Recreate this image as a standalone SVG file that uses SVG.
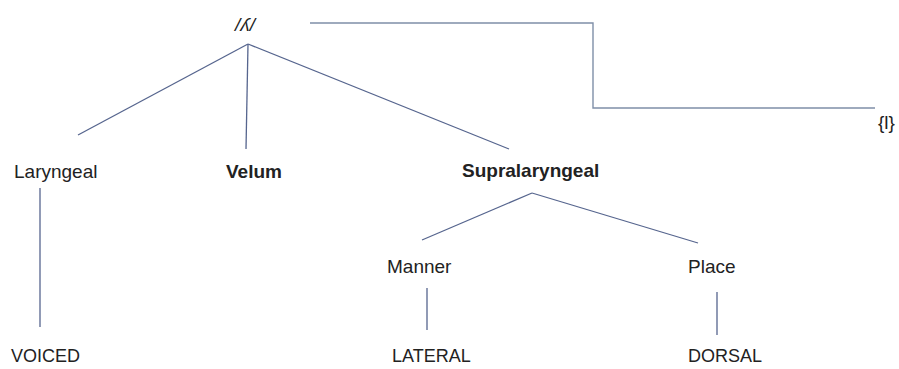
<svg xmlns="http://www.w3.org/2000/svg" width="899" height="369" viewBox="0 0 899 369">
<style>
.t{font-family:"Liberation Sans",Arial,sans-serif;font-size:19px;fill:#222}
.b{font-weight:bold}
.c{font-size:18px}
.e{stroke:#56658e;stroke-width:1.3;fill:none}
.br{stroke:#7f8fa8;stroke-width:1.4;fill:none}
</style>
<rect width="899" height="369" fill="#fff"/>
<g id="connectors">
<line class="e" x1="248" y1="44" x2="78" y2="135"/>
<line class="e" x1="248" y1="44" x2="246" y2="149"/>
<line class="e" x1="248" y1="44" x2="509" y2="149"/>
<line class="e" x1="40" y1="188" x2="40" y2="327"/>
<line class="e" x1="532" y1="193" x2="422" y2="240"/>
<line class="e" x1="532" y1="193" x2="698" y2="243"/>
<line class="e" x1="427" y1="288" x2="427" y2="330"/>
<line class="e" x1="717" y1="292" x2="717" y2="335"/>
<path class="br" d="M310 23 H593 V108 H875"/>
</g>
<g id="root"><text class="t" x="245" y="31" font-size="21" text-anchor="middle" font-style="italic">/ʎ/</text></g>
<g id="l-target"><text class="t" x="878" y="129" font-size="15">{l}</text></g>
<g id="laryngeal"><text class="t" x="14" y="178">Laryngeal</text></g>
<g id="velum"><text class="t b" x="226" y="178">Velum</text></g>
<g id="supralaryngeal"><text class="t b" x="462" y="177">Supralaryngeal</text></g>
<g id="manner"><text class="t" x="387" y="273">Manner</text></g>
<g id="place"><text class="t" x="688" y="273">Place</text></g>
<g id="voiced"><text class="t c" x="11" y="362">VOICED</text></g>
<g id="lateral"><text class="t c" x="392" y="362">LATERAL</text></g>
<g id="dorsal"><text class="t c" x="688" y="362">DORSAL</text></g>
</svg>
